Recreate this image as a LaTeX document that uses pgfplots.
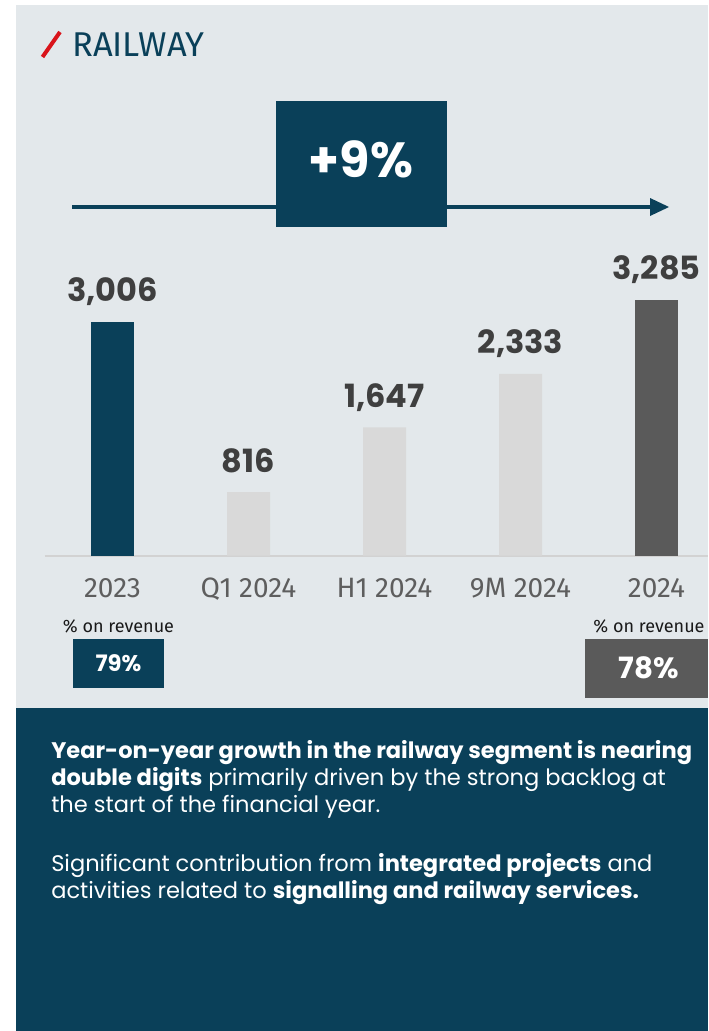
\documentclass[border=0pt]{standalone}
\usepackage{fontspec}
\usepackage{pgfplots}
\pgfplotsset{compat=1.18}
\setmainfont{Poppins}
\newfontfamily\dinfont{Fira Sans}
\definecolor{navy}{HTML}{0A4059}
\definecolor{panel}{HTML}{E3E8EB}
\definecolor{lightbar}{HTML}{D9D9D9}
\definecolor{darkbar}{HTML}{5A5A5A}
\definecolor{valgray}{HTML}{3F3F3F}
\definecolor{catgray}{HTML}{5E5E5E}
\definecolor{railred}{HTML}{D9141B}
\definecolor{baseln}{HTML}{D2D2D2}
\pgfplotsset{rbar/.style={ybar, bar width=32.25pt, bar shift=0pt, draw=none}}

\begin{document}
\begin{tikzpicture}[x=0.75pt,y=-0.75pt]
% panels
\fill[white] (0,0) rectangle (708,1031);
\fill[panel] (16,5) rectangle (708,708);
\fill[navy] (16,707.5) rectangle (708,1031);

% title
\draw[railred, line width=3pt] (42.5,57) -- (60,32);
\node[anchor=base west, inner sep=0, text=navy, font=\dinfont\fontsize{25.8}{30}\selectfont] at (72,56.5) {RAILWAY};

% growth arrow
\draw[navy, line width=3.5pt] (72,207) -- (655,207);
\fill[navy] (650,198) -- (669,207) -- (650,216) -- cycle;
\fill[navy] (276,101) rectangle (447,227);
\node[text=white, font=\bfseries\fontsize{37}{40}\selectfont, anchor=base, inner sep=0] at (361,177) {+9\%};

\begin{axis}[
    at={(33.375pt,-416.625pt)}, anchor=south west,
    scale only axis,
    width=497.625pt, height=210.06pt,
    xmin=-0.5, xmax=4.3787, ymin=0, ymax=3600,
    axis x line*=bottom, axis y line=none,
    x axis line style={draw=baseln, line width=1.5pt, -},
    xtick={0,1,2,3,4},
    xticklabels={2023,Q1 2024,H1 2024,9M 2024,2024},
    major tick length=0pt,
    xticklabel style={font=\dinfont\fontsize{21}{24}\selectfont, text=catgray, anchor=base, yshift=-31.35pt},
    clip=false,
    nodes near coords={\pgfmathprintnumber[assume math mode=true]{\pgfplotspointmeta}},
    every node near coord/.append style={font=\bfseries\fontsize{24}{28}\selectfont, text=valgray, anchor=base, yshift=15pt, inner sep=0pt},
]
\addplot[rbar, fill=navy] coordinates {(0,3006)};
\addplot[rbar, fill=lightbar] coordinates {(1,816) (2,1647) (3,2333)};
\addplot[rbar, fill=darkbar] coordinates {(4,3285)};
\end{axis}

% share of revenue
\node[font=\dinfont\fontsize{13.5}{16}\selectfont, text=black!90, anchor=base, inner sep=0] at (118.5,632) {\% on revenue};
\fill[navy] (73,639) rectangle (164,688);
\node[font=\bfseries\fontsize{17}{20}\selectfont, text=white] at (118.5,663.5) {79\%};
\node[font=\dinfont\fontsize{13.5}{16}\selectfont, text=black!90, anchor=base, inner sep=0] at (649,632) {\% on revenue};
\fill[darkbar] (585,639) rectangle (708,697.5);
\node[font=\bfseries\fontsize{22}{26}\selectfont, text=white] at (648.7,668) {78\%};

% comment text
\begin{scope}[every node/.style={anchor=base west, inner sep=0, text=white, font=\fontsize{16.9}{20}\selectfont}]
\node at (51,758.3) {\textbf{Year-on-year growth in the railway segment is nearing}};
\node at (51,785.3) {\textbf{double digits} primarily driven by the strong backlog at};
\node at (51,812.3) {the start of the financial year.};
\node at (51,871.5) {Significant contribution from \textbf{integrated projects} and};
\node at (51,898.5) {activities related to \textbf{signalling and railway services.}};
\end{scope}

\pgfresetboundingbox
\useasboundingbox (0,0) rectangle (708,1031);
\end{tikzpicture}
\end{document}
